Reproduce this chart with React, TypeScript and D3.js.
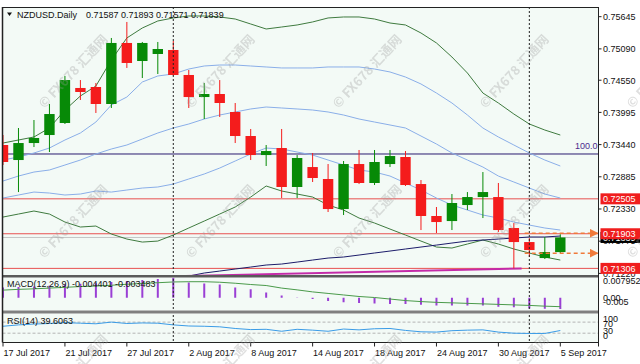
import React from "react";
import * as d3 from "d3";

// ---------------- data ----------------
const dates = [
  "17 Jul 2017","18 Jul 2017","19 Jul 2017","20 Jul 2017","21 Jul 2017","24 Jul 2017","25 Jul 2017","26 Jul 2017","27 Jul 2017","28 Jul 2017",
  "31 Jul 2017","1 Aug 2017","2 Aug 2017","3 Aug 2017","4 Aug 2017","7 Aug 2017","8 Aug 2017","9 Aug 2017","10 Aug 2017","11 Aug 2017",
  "14 Aug 2017","15 Aug 2017","16 Aug 2017","17 Aug 2017","18 Aug 2017","21 Aug 2017","22 Aug 2017","23 Aug 2017","24 Aug 2017","25 Aug 2017",
  "28 Aug 2017","29 Aug 2017","30 Aug 2017","31 Aug 2017","1 Sep 2017","4 Sep 2017","5 Sep 2017",
];
const open = [0.73433,0.73174,0.73467,0.73605,0.73812,0.74416,0.74433,0.74140,0.75192,0.74881,0.75002,0.75071,0.74640,0.74260,0.74312,0.74002,0.73588,0.73260,0.73381,0.72709,0.73053,0.72847,0.72329,0.73105,0.72778,0.73105,0.73226,0.72760,0.72209,0.72122,0.72398,0.72536,0.72536,0.72002,0.71760,0.71484,0.71587];
const high = [0.73605,0.73726,0.73864,0.74140,0.74623,0.74553,0.74502,0.75278,0.75554,0.75209,0.75209,0.75226,0.74726,0.74502,0.74553,0.74157,0.73709,0.73433,0.73709,0.73260,0.73295,0.73105,0.73157,0.73347,0.73347,0.73347,0.73329,0.72829,0.72364,0.72588,0.72622,0.72967,0.72778,0.72088,0.71829,0.71847,0.71893];
const low = [0.73088,0.72622,0.73398,0.73312,0.73795,0.74209,0.73985,0.74071,0.74761,0.74588,0.74657,0.74630,0.74071,0.73881,0.73916,0.73467,0.73174,0.73071,0.72519,0.72519,0.72795,0.72278,0.72226,0.72760,0.72743,0.73053,0.72726,0.71967,0.71916,0.71967,0.72312,0.72174,0.71933,0.71306,0.71502,0.71467,0.71571];
const close = [0.73140,0.73467,0.73554,0.73967,0.74553,0.74347,0.74140,0.75192,0.74847,0.75192,0.75088,0.74640,0.74260,0.74312,0.74157,0.73588,0.73260,0.73329,0.72709,0.73209,0.72864,0.72329,0.73105,0.72778,0.73140,0.73243,0.72743,0.72209,0.72105,0.72433,0.72536,0.72622,0.71967,0.71760,0.71622,0.71588,0.71839];

const bbOuterUpper = [0.73467,0.73519,0.73571,0.73726,0.74036,0.74278,0.74450,0.74898,0.75278,0.75450,0.75571,0.75623,0.75657,0.75657,0.75640,0.75605,0.75519,0.75433,0.75467,0.75502,0.75554,0.75623,0.75640,0.75640,0.75605,0.75536,0.75502,0.75364,0.75192,0.74950,0.74674,0.74329,0.74157,0.73967,0.73795,0.73691,0.73605];
const bbInnerUpper = [0.73174,0.73226,0.73295,0.73381,0.73519,0.73640,0.73829,0.74123,0.74260,0.74519,0.74623,0.74657,0.74743,0.74795,0.74812,0.74812,0.74795,0.74778,0.74761,0.74761,0.74761,0.74778,0.74778,0.74778,0.74743,0.74692,0.74605,0.74485,0.74329,0.74157,0.73950,0.73726,0.73571,0.73433,0.73295,0.73174,0.73071];
const bbMiddle = [0.72812,0.72898,0.72967,0.73002,0.73088,0.73174,0.73278,0.73364,0.73433,0.73536,0.73640,0.73726,0.73795,0.73881,0.73950,0.74002,0.74054,0.74088,0.74071,0.74054,0.74036,0.74002,0.73950,0.73881,0.73829,0.73778,0.73726,0.73588,0.73450,0.73295,0.73174,0.73053,0.72898,0.72795,0.72691,0.72588,0.72519];
const bbInnerLower = [0.72519,0.72571,0.72622,0.72605,0.72571,0.72588,0.72640,0.72622,0.72657,0.72691,0.72709,0.72760,0.72847,0.72933,0.73036,0.73157,0.73278,0.73381,0.73364,0.73312,0.73260,0.73174,0.73088,0.73002,0.72967,0.72898,0.72778,0.72657,0.72519,0.72398,0.72312,0.72226,0.72174,0.72105,0.72053,0.72002,0.71967];
const bbOuterLower = [0.72191,0.72243,0.72295,0.72243,0.72105,0.72019,0.72036,0.71898,0.71812,0.71760,0.71777,0.71881,0.72002,0.72122,0.72243,0.72364,0.72536,0.72726,0.72640,0.72588,0.72536,0.72398,0.72312,0.72174,0.72088,0.71984,0.71881,0.71777,0.71674,0.71657,0.71726,0.71795,0.71726,0.71640,0.71571,0.71502,0.71450];
const maLong: (number | null)[] = [null,null,null,null,null,null,null,null,null,null,0.71088,0.71140,0.71174,0.71226,0.71260,0.71295,0.71329,0.71364,0.71381,0.71415,0.71450,0.71484,0.71502,0.71536,0.71571,0.71605,0.71640,0.71674,0.71708,0.71743,0.71777,0.71795,0.71812,0.71829,0.71847,0.71847,0.71864];

const trendIndex = [11, 33.5];
const trendPrice = [0.71170, 0.71306];

const macdMain = [0.0040,0.0042,0.0044,0.0047,0.0052,0.0055,0.0057,0.0062,0.0066,0.0070,0.0074,0.0079,0.0060,0.0056,0.0052,0.0040,0.0033,0.0021,0.0009,0.0001,-0.0005,-0.0013,-0.0018,-0.0021,-0.0023,-0.0024,-0.0024,-0.0027,-0.0030,-0.0030,-0.0030,-0.0030,-0.0035,-0.0037,-0.0042,-0.0043,-0.0044];
const macdSignal = [0.0030,0.0033,0.0035,0.0038,0.0041,0.0044,0.0046,0.0049,0.0053,0.0056,0.0059,0.0062,0.0063,0.0063,0.0061,0.0057,0.0052,0.0048,0.0038,0.0031,0.0023,0.0017,0.0011,0.0005,0.0001,-0.0005,-0.0011,-0.0015,-0.0018,-0.0020,-0.0022,-0.0024,-0.0026,-0.0028,-0.0030,-0.0033,-0.0035];
const rsi = [55,60,63,65,68,66,64,70,65,67,66,60,56,55,53,47,43,44,37,44,41,37,45,42,46,47,40,35,34,39,41,42,34,30,29,29,39.6063];

const priceTicks = [0.75645,0.75090,0.74550,0.73995,0.73440,0.72885,0.72330,0.71775,0.71220];
const priceDomain = [0.71192, 0.75812];
const macdDomain = [-0.005, 0.007952];
const macdTickLabels = ["0.007952", "0.00", "-0.005"];
const macdTickValues = [0.0066, 0.0, -0.0015];
const rsiTickLabels = ["100", "70", "30", "0"];
const rsiTickValues = [82, 63, 40, 22];
const rsiLevels = [70, 30];

const redLevels = [0.72505, 0.71903, 0.71306];
const fiboLevel = 0.73278;
const fiboLabel = "100.0";
const bidPrice = 0.71839;
const arrowLevels = [0.71903, 0.71560];
const arrowStartIndex = 33.7;
const separatorIndex = [11, 34];
const dateLabelStep = 4;

const title = "NZDUSD.Daily";
const macdTitle = "MACD(12,26,9) -0.004401 -0.003483";
const rsiTitle = "RSI(14) 39.6063";
const watermark = "© FX678 汇通网";
const wmCols = [74, 221, 368, 515, 662];
const wmRows = [72, 222, 372];

// ---------------- layout ----------------
const W = 640, H = 364;
const L = 2.5, R = 598.5;
const mainTop = 7, mainBot = 275;
const macdTop = 277.5, macdBot = 310.5;
const rsiTop = 313.5, rsiBot = 342.5;
const FONT = "'Liberation Sans', Arial, sans-serif";

export default function App() {
  const n = dates.length;
  const x = d3.scalePoint<string>().domain(dates).range([3, 560.3]);
  const xi = d3.scaleLinear().domain([0, n - 1]).range([3, 560.3]);
  const y = d3.scaleLinear().domain(priceDomain).range([mainBot, mainTop]);
  const my = d3.scaleLinear().domain(macdDomain).range([macdBot, macdTop]);
  const ry = d3.scaleLinear().domain([0, 100]).range([rsiBot - 1, rsiTop + 0.3]);

  const line = (arr: (number | null)[], sy: d3.ScaleLinear<number, number>) =>
    d3.line<number | null>()
      .defined((d) => d != null)
      .x((_, i) => xi(i))
      .y((d) => sy(d as number))(arr) || "";

  const bodyW = 10.4;
  const bg = "#f3faf6";

  return (
    <svg width={W} height={H} style={{ position: "absolute", left: 0, top: 0, background: "#fff", fontFamily: FONT }}>
      <defs>
        <clipPath id="mainClip"><rect x={L} y={mainTop} width={R - L} height={mainBot - mainTop} /></clipPath>
        <clipPath id="macdClip"><rect x={L} y={macdTop} width={R - L} height={macdBot - macdTop} /></clipPath>
        <clipPath id="rsiClip"><rect x={L} y={rsiTop} width={R - L} height={rsiBot - rsiTop} /></clipPath>
        <marker id="arr" viewBox="0 0 8 8" refX="7" refY="4" markerWidth="6" markerHeight="6" orient="auto">
          <path d="M0,0 L8,4 L0,8 z" fill="#f07a3a" />
        </marker>
      </defs>

      {/* panel backgrounds */}
      <rect x={L} y={mainTop} width={R - L} height={mainBot - mainTop} fill={bg} />
      <rect x={L} y={macdTop} width={R - L} height={macdBot - macdTop} fill={bg} />
      <rect x={L} y={rsiTop} width={R - L} height={rsiBot - rsiTop} fill={bg} />

      {/* main panel */}
      <g clipPath="url(#mainClip)">
        {redLevels.map((p) => (
          <line key={p} x1={L} x2={R} y1={y(p)} y2={y(p)} stroke="#e85050" strokeWidth={1} />
        ))}
        <line x1={L} x2={R} y1={y(bidPrice)} y2={y(bidPrice)} stroke="#c4c4c4" strokeWidth={1} />
        <line x1={L} x2={R} y1={y(fiboLevel)} y2={y(fiboLevel)} stroke="#2a1a70" strokeWidth={1} />
        <text x={R - 1} y={y(fiboLevel) - 5} textAnchor="end" fontSize={9} fill="#4b2a8c">{fiboLabel}</text>

        <path d={line(bbOuterUpper, y)} fill="none" stroke="#3f7a3f" strokeWidth={1} />
        <path d={line(bbOuterLower, y)} fill="none" stroke="#3f7a3f" strokeWidth={1} />
        <path d={line(bbInnerUpper, y)} fill="none" stroke="#8aaee8" strokeWidth={1} />
        <path d={line(bbMiddle, y)} fill="none" stroke="#8aaee8" strokeWidth={1} />
        <path d={line(bbInnerLower, y)} fill="none" stroke="#8aaee8" strokeWidth={1} />
        <path d={line(maLong, y)} fill="none" stroke="#1c1c6a" strokeWidth={1} />
        <line x1={xi(trendIndex[0])} x2={xi(trendIndex[1])} y1={y(trendPrice[0])} y2={y(trendPrice[1])} stroke="#c42aa8" strokeWidth={2} />

        {dates.map((d, i) => {
          const up = close[i] >= open[i];
          const c = up ? "#078a07" : "#f41c1c";
          const top = y(Math.max(open[i], close[i]));
          const bot = y(Math.min(open[i], close[i]));
          const cx = x(d) as number;
          return (
            <g key={d}>
              <line x1={cx} x2={cx} y1={y(high[i])} y2={y(low[i])} stroke={c} strokeWidth={1} />
              <rect x={cx - bodyW / 2} y={top} width={bodyW} height={Math.max(1.5, bot - top)} fill={c} />
            </g>
          );
        })}

        {arrowLevels.map((p) => (
          <line key={p} x1={xi(arrowStartIndex)} x2={R - 1} y1={y(p) - 0.5} y2={y(p) - 0.5} stroke="#f07a3a" strokeWidth={1.5} strokeDasharray="4,3" markerEnd="url(#arr)" />
        ))}
      </g>

      {/* MACD panel */}
      <g clipPath="url(#macdClip)">
        {macdMain.map((v, i) => (
          <line key={i} x1={xi(i)} x2={xi(i)} y1={my(0)} y2={my(v)} stroke="#9a3fd5" strokeWidth={2} />
        ))}
        <path d={line(macdSignal, my)} fill="none" stroke="#4a9a4a" strokeWidth={1} />
      </g>
      <text x={7} y={macdTop + 9} fontSize={9} fill="#111">{macdTitle}</text>

      {/* RSI panel */}
      <g clipPath="url(#rsiClip)">
        {rsiLevels.map((v) => (
          <line key={v} x1={L} x2={R} y1={ry(v)} y2={ry(v)} stroke="#b4b4b4" strokeDasharray="3,2" strokeWidth={1} />
        ))}
        <path d={line(rsi, ry)} fill="none" stroke="#3a9be6" strokeWidth={1} />
      </g>
      <text x={7} y={rsiTop + 10} fontSize={9} fill="#111">{rsiTitle}</text>

      {/* period separators */}
      {separatorIndex.map((i) => (
        <line key={i} x1={xi(i)} x2={xi(i)} y1={mainTop} y2={rsiBot} stroke="#222" strokeWidth={1} strokeDasharray="2,2" />
      ))}

      {/* panel separators & frames */}
      <rect x={L} y={mainBot} width={R - L} height={macdTop - mainBot} fill="#5a5a5a" />
      <rect x={L} y={macdBot} width={R - L} height={rsiTop - macdBot} fill="#808080" />
      <line x1={L} x2={R} y1={mainTop + 0.5} y2={mainTop + 0.5} stroke="#222" />
      <line x1={L} x2={L} y1={mainTop} y2={rsiBot} stroke="#222" strokeWidth={1.5} />
      <line x1={R} x2={R} y1={mainTop} y2={rsiBot + 4} stroke="#222" />
      <line x1={L} x2={R} y1={rsiBot} y2={rsiBot} stroke="#222" />

      {/* title */}
      <path d="M7,12.5 L12,12.5 L9.5,16 z" fill="#111" />
      <text x={17} y={18} fontSize={9} fill="#111">{title}</text>
      <text x={86} y={18} fontSize={9} fill="#111">
        {[open[n - 1], high[n - 1], low[n - 1], close[n - 1]].map((v) => v.toFixed(5)).join(" ")}
      </text>

      {/* price axis */}
      {priceTicks.map((p) => (
        <g key={p}>
          <line x1={R} x2={R + 3} y1={y(p)} y2={y(p)} stroke="#222" />
          <text x={603} y={y(p) + 3.3} fontSize={9} fill="#111">{p.toFixed(5)}</text>
        </g>
      ))}
      <g>
        <rect x={600.5} y={y(bidPrice) - 5.5} width={40} height={11} fill="#000" />
        <text x={603} y={y(bidPrice) + 3.3} fontSize={9} fill="#fff">{bidPrice.toFixed(5)}</text>
      </g>
      {redLevels.map((p) => (
        <g key={p}>
          <rect x={600.5} y={y(p) - 5.5} width={40} height={11} fill="#f01e1e" />
          <text x={603} y={y(p) + 3.3} fontSize={9} fill="#fff">{p.toFixed(5)}</text>
        </g>
      ))}

      {/* macd & rsi axis labels */}
      {macdTickLabels.map((t, k) => (
        <text key={t} x={603} y={my(macdTickValues[k]) + 3.3} fontSize={9} fill="#111">{t}</text>
      ))}
      {rsiTickLabels.map((t, k) => (
        <text key={t} x={603} y={ry(rsiTickValues[k]) + 3.3} fontSize={9} fill="#111">{t}</text>
      ))}

      {/* date axis */}
      {dates.map((d, i) =>
        i % dateLabelStep === 0 ? (
          <g key={d}>
            <line x1={x(d)} x2={x(d)} y1={rsiBot} y2={rsiBot + 4} stroke="#222" />
            <text x={(x(d) as number) + 0.5} y={356} fontSize={9} fill="#111">{d}</text>
          </g>
        ) : null
      )}

      {/* watermark */}
      <g opacity={0.32} pointerEvents="none">
        {wmRows.map((ry0) =>
          wmCols.map((cx0) => (
            <text key={`${cx0}-${ry0}`} x={cx0} y={ry0} fontSize={13} fontWeight="bold" fill="#9a9a9a" textAnchor="middle"
              dominantBaseline="middle" transform={`rotate(-47 ${cx0} ${ry0})`}
              style={{ fontFamily: "'Noto Sans CJK SC', 'Liberation Sans', sans-serif" }}>
              {watermark}
            </text>
          ))
        )}
      </g>
    </svg>
  );
}
